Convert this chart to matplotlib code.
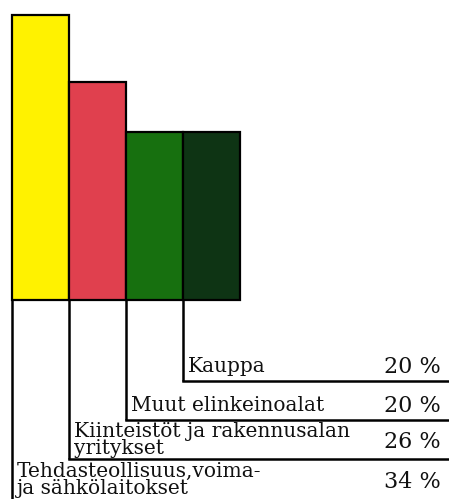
import matplotlib.pyplot as plt

# Osuudet toimialoittain (%)
toimialat = ["Tehdasteollisuus,voima-\nja sähkölaitokset",
             "Kiinteistöt ja rakennusalan\nyritykset",
             "Muut elinkeinoalat",
             "Kauppa"]
osuudet = [34, 26, 20, 20]
varit = ["#fff200", "#e0404e", "#17700f", "#0e3414"]

W, H = 449, 499
fig = plt.figure(figsize=(W / 100, H / 100), dpi=100)
ax = fig.add_axes([0, 0, 1, 1])

# pikseleistä data-yksiköihin
ux = 57.0        # px per pylväs
uy = 8.38        # px per %-yksikkö
x0, y0 = 12, 300  # ensimmäisen pylvään vasen alakulma (px)
ax.set_xlim(-x0 / ux, (W - x0) / ux)
ax.set_ylim(-(H - y0) / uy, y0 / uy)
ax.axis("off")

xs = list(range(len(osuudet)))
ax.bar(xs, osuudet, width=1.0, align="edge", color=varit,
       edgecolor="black", linewidth=1.6, zorder=3)

# rivien alaviivat (px ylhäältä)
rivit_px = [499, 459, 420, 381]
oikea = (W - x0) / ux
for i, (nimi, arvo) in enumerate(zip(toimialat, osuudet)):
    yr = -(rivit_px[i] - y0) / uy
    ax.plot([i, i], [0, yr], color="black", lw=1.8, solid_capstyle="butt", zorder=2)
    if rivit_px[i] < H:
        ax.plot([i, oikea], [yr, yr], color="black", lw=1.8, zorder=2)
    kaksirivinen = "\n" in nimi
    ax.text(i + 5 / ux, yr + (5 if kaksirivinen else 9) / uy, nimi,
            ha="left", va="baseline", fontsize=14.5, family="DejaVu Serif",
            linespacing=0.88, color="#111111")
    ax.text((441 - x0) / ux, yr + (11 if kaksirivinen else 8.5) / uy,
            f"{arvo} %", ha="right", va="baseline", fontsize=16,
            family="DejaVu Serif", color="#111111")

fig.savefig("out.png", dpi=100)
